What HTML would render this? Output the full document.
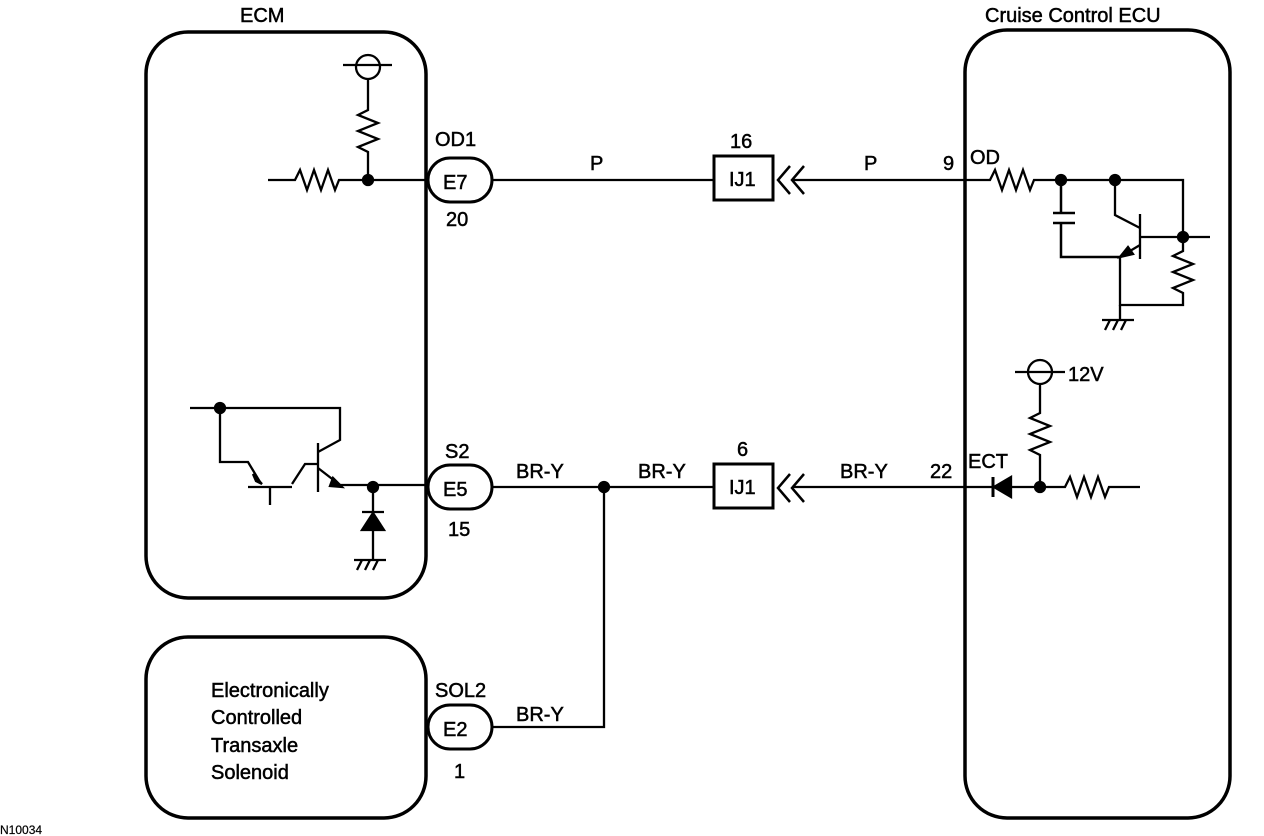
<!DOCTYPE html>
<html><head><meta charset="utf-8"><style>
body{margin:0;background:#fff}
svg{display:block}
text{font-family:"Liberation Sans",sans-serif;font-size:20px;fill:#000;stroke:#000;stroke-width:0.5px}
</style></head><body>
<svg width="1264" height="836" viewBox="0 0 1264 836" fill="none" stroke="#000" stroke-width="2.3">
<!-- boxes -->
<rect x="146" y="32" width="280" height="566" rx="42" stroke-width="3.5"/>
<rect x="965" y="30" width="265" height="788" rx="42" stroke-width="3.5"/>
<rect x="146" y="637" width="280" height="181" rx="42" stroke-width="3.5"/>
<g>
<text x="240" y="22">ECM</text>
<text x="985" y="22">Cruise Control ECU</text>
<text x="211" y="697">Electronically</text>
<text x="211" y="724">Controlled</text>
<text x="211" y="752">Transaxle</text>
<text x="211" y="779">Solenoid</text>
<text x="0" y="834" style="font-size:12px;stroke-width:0.2px">N10034</text>
<text x="435" y="146">OD1</text><text x="446" y="226">20</text>
<text x="445" y="458">S2</text><text x="448" y="536">15</text>
<text x="435" y="697">SOL2</text><text x="454" y="778">1</text>
<text x="590" y="170">P</text><text x="864" y="170">P</text>
<text x="730" y="148">16</text><text x="737" y="456">6</text>
<text x="943" y="170">9</text><text x="970" y="164">OD</text>
<text x="516" y="478">BR-Y</text><text x="638" y="478">BR-Y</text><text x="840" y="478">BR-Y</text>
<text x="516" y="721">BR-Y</text>
<text x="930" y="478">22</text><text x="968" y="468">ECT</text>
<text x="1068" y="381">12V</text>
<text x="443" y="189">E7</text><text x="443" y="496">E5</text><text x="443" y="736">E2</text>
<text x="729" y="186">IJ1</text><text x="729" y="494">IJ1</text>
</g>
<!-- connectors -->
<rect x="428" y="158" width="64" height="44" rx="22" stroke-width="3"/>
<rect x="428" y="465" width="64" height="44" rx="22" stroke-width="3"/>
<rect x="428" y="705" width="64" height="44" rx="22" stroke-width="3"/>
<rect x="714" y="156" width="59" height="44" stroke-width="3"/>
<rect x="714" y="464" width="59" height="44" stroke-width="3"/>
<path d="M790 166L778 180L790 194M804 166L792 180L804 194" stroke-width="2.5"/>
<path d="M790 474L778 488L790 502M804 474L792 488L804 502" stroke-width="2.5"/>
<!-- wires -->
<path d="M492 180H714M792 180H965"/>
<path d="M492 487H714M792 487H965M604 487V727H492"/>
<circle cx="604" cy="487" r="5" fill="#000"/>
<!-- ECM top -->
<path d="M268 180H295l5 -10l7 20l7 -20l7 20l7 -20l7 20l4 -10H426"/>
<circle cx="368" cy="180" r="5" fill="#000"/>
<path d="M368 180V152l-10 -5l20 -8l-20 -8l20 -8l-20 -8l10 -5V80"/>
<circle cx="368" cy="67" r="12"/><path d="M343 65H392"/>
<!-- ECM bottom -->
<path d="M190 408H340V440L318 452M318 443V492M318 468L340 485H426"/>
<path d="M333 478L342 487L330 486Z" fill="#000"/>
<circle cx="220" cy="408" r="5" fill="#000"/>
<path d="M220 408V462H248L260 482M248 487H292M270 487V505M292 484L305 464H318"/>
<path d="M253 474L262 484L256 481Z" fill="#000"/>
<circle cx="373" cy="487" r="5" fill="#000"/>
<path d="M373 487V560M362 512H384"/><path d="M362 530L384 530L373 513Z" fill="#000"/>
<path d="M354 560H386M357 570L362 560M365 570L370 560M373 570L378 560"/>
<!-- Cruise top -->
<path d="M965 180H990l5 -10l7 20l7 -20l7 20l7 -20l7 20l4 -10H1183V237H1210"/>
<circle cx="1061" cy="180" r="5" fill="#000"/><circle cx="1115" cy="180" r="5" fill="#000"/><circle cx="1183" cy="237" r="5" fill="#000"/>
<path d="M1061 180V213M1053 213H1075M1053 223H1075M1061 223V257H1120" stroke-width="2.5"/>
<path d="M1115 180V215L1140 228M1140 214V259M1140 237H1183M1140 245L1120 257V305H1183V293l-10 -5l20 -8l-20 -8l20 -8l-20 -8l10 -5V237"/>
<path d="M1120 257L1128 247L1133 254Z" fill="#000"/>
<path d="M1102 320H1134M1105 330L1110 320M1113 330L1118 320M1121 330L1126 320M1120 305V320"/>
<!-- Cruise bottom -->
<circle cx="1040" cy="372" r="12"/><path d="M1015 372H1065"/>
<path d="M1040 384V413l-10 5l20 8l-20 8l20 8l-20 8l10 5V487"/>
<circle cx="1040" cy="487" r="5" fill="#000"/>
<path d="M965 487H1065l5 -10l7 20l7 -20l7 20l7 -20l7 20l4 -10H1140"/>
<path d="M993 477V497" stroke-width="3"/><path d="M994 487L1011 477V497Z" fill="#000"/>
</svg>
</body></html>
